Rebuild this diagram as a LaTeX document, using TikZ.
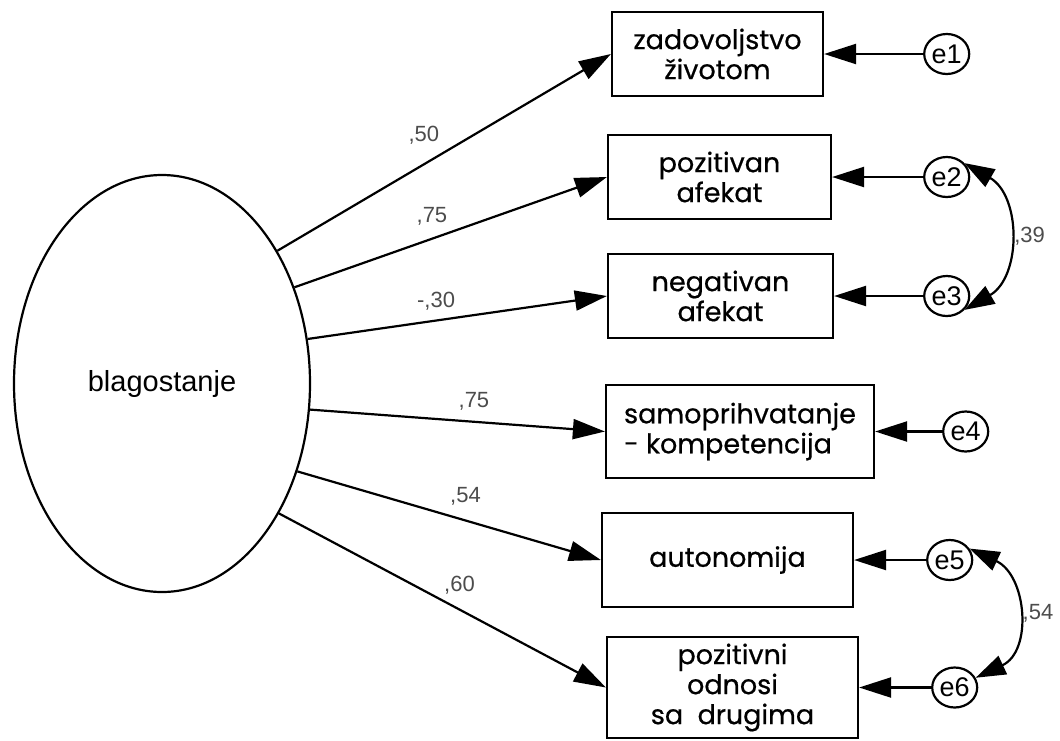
\documentclass[tikz,border=0pt]{standalone}
\usepackage{fontspec}
\setmainfont{Liberation Sans}
\newfontfamily\kutijafont[FakeBold=0.6]{Poppins}
\usetikzlibrary{arrows.meta,positioning,shapes.geometric}
\tikzset{
  pokazatelj/.style={draw,line width=2.2pt,inner sep=2pt,align=center,
                     font=\kutijafont\fontsize{27}{30}\selectfont},
  faktor/.style={draw,ellipse,line width=2.2pt,inner sep=0pt,minimum width=296pt,minimum height=417pt,
                 font=\fontsize{29}{32}\selectfont},
  greska/.style={draw,ellipse,line width=2.2pt,inner sep=0pt,minimum width=45pt,minimum height=40pt,
                 font=\fontsize{27}{30}\selectfont},
  strelica/.style={-{Triangle[length=32pt,width=20pt]},line width=2.2pt},
  kov/.style={{Triangle[length=30pt,width=20pt]}-{Triangle[length=30pt,width=20pt]},line width=2.2pt},
  teret/.style={font=\fontsize{22}{24}\selectfont,text=black!70,inner sep=1pt},
}
\begin{document}
\begin{tikzpicture}[x=1pt,y=1pt]
  \useasboundingbox (0,0) rectangle (1060,-740);
  \node[faktor] (blag) at (162,-383.5) {blagostanje};
  \node[pokazatelj,minimum width=211pt,minimum height=84pt] (zad) at (717.5,-54) {zadovoljstvo\\životom};
  \node[pokazatelj,minimum width=223pt,minimum height=84pt] (poz) at (719.5,-177) {pozitivan\\afekat};
  \node[pokazatelj,minimum width=225pt,minimum height=84pt] (neg) at (720.5,-296) {negativan\\afekat};
  \node[pokazatelj,minimum width=268pt,minimum height=93pt,align=left] (sam) at (740,-431.5) {samoprihvatanje\\- kompetencija};
  \node[pokazatelj,minimum width=251pt,minimum height=94pt] (aut) at (727.5,-560) {autonomija};
  \node[pokazatelj,minimum width=251pt,minimum height=101pt] (odn) at (732.5,-687.5) {pozitivni\\odnosi\\sa\ \ drugima};

  \node[greska,right=99pt of zad] (e1) {e1};
  \node[greska,right=91pt of poz] (e2) {e2};
  \node[greska,right=89pt of neg] (e3) {e3};
  \node[greska,right=67pt of sam] (e4) {e4};
  \node[greska,right=72pt of aut] (e5) {e5};
  \node[greska,right=72pt of odn] (e6) {e6};

  \draw[strelica] (blag.49.7) -- node[teret,pos=0.439,yshift=29.4pt] {,50} (zad.west);
  \draw[strelica] (blag.36.7) -- node[teret,pos=0.44,yshift=22.9pt] {,75} (poz.west);
  \draw[strelica] (blag.17.9) -- node[teret,pos=0.429,yshift=19.8pt] {-,30} (neg.west);
  \draw[strelica] (blag.-10.2) -- node[teret,pos=0.556,yshift=20.2pt] {,75} (sam.west);
  \draw[strelica] (blag.-33) -- node[teret,pos=0.554,yshift=23.8pt] {,54} (aut.west);
  \draw[strelica] (blag.-48.3) -- node[teret,pos=0.552,yshift=24.6pt] {,60} (odn.west);

  \draw[strelica] (e1) -- (zad);
  \draw[strelica] (e2) -- (poz);
  \draw[strelica] (e3) -- (neg);
  \draw[strelica] (e4) -- (sam);
  \draw[strelica] (e5) -- (aut);
  \draw[strelica] (e6) -- (odn);

  \draw[kov] (e2.38) to[out=-30,in=30,looseness=1.15] node[teret,right=5pt] {,39} (e3.-38);
  \draw[kov] (e5.30) to[out=-25,in=25,looseness=1.25] node[teret,right=5pt] {,54} (e6.25);
\end{tikzpicture}
\end{document}
